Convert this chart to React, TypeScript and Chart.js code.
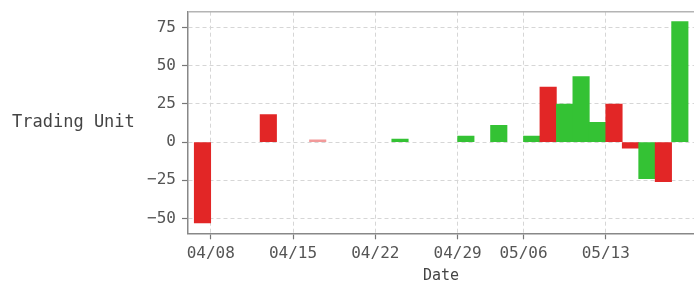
import React, { useEffect, useRef } from 'react';
import { Chart, registerables } from 'chart.js';

Chart.register(...registerables);

// Trading-day index of each labelled date tick
const tickDays = [0, 5, 10, 15, 19, 24];
const tickLabels = ['04/08', '04/15', '04/22', '04/29', '05/06', '05/13'];

// Each bar: trading-day slot (bar spans slot..slot+1), value, side
const barDays = [-1, 3, 6, 11, 15, 17, 19, 20, 21, 22, 23, 24, 25, 26, 27, 28];
const barValues = [-53, 18, 1.5, 2, 4, 11, 4, 36, 25, 43, 13, 25, -4, -24, -26, 79];
const barSides = ['sell', 'sell', 'sellLight', 'buy', 'buy', 'buy', 'buy', 'sell', 'buy', 'buy', 'buy', 'sell', 'sell', 'buy', 'sell', 'buy'];

const yTicks = [-50, -25, 0, 25, 50, 75];

const yTitle = 'Trading Unit';
const xTitle = 'Date';

const FONT = "'DejaVu Sans Mono', monospace";
const sideColors: Record<string, string> = {
  sell: '#e22626',
  sellLight: '#f29a9a',
  buy: '#34c234',
};

export default function App() {
  const ref = useRef<HTMLCanvasElement | null>(null);

  useEffect(() => {
    document.body.style.margin = '0';
    document.body.style.overflow = 'hidden';
    if (!ref.current) return;
    const frame = {
      id: 'frame',
      afterDraw(chart: any) {
        const { ctx, chartArea } = chart;
        ctx.save();
        ctx.strokeStyle = '#b4b4b4';
        ctx.lineWidth = 1.5;
        ctx.beginPath();
        ctx.moveTo(chartArea.left, chartArea.top);
        ctx.lineTo(chartArea.right + 2, chartArea.top);
        ctx.stroke();
        ctx.font = `17px ${FONT}`;
        ctx.fillStyle = '#444';
        ctx.textAlign = 'left';
        ctx.textBaseline = 'middle';
        ctx.fillText(yTitle, 12, (chartArea.top + chartArea.bottom) / 2);
        ctx.restore();
      },
    };

    const chart = new Chart(ref.current, {
      type: 'bar',
      data: {
        datasets: [
          {
            data: barDays.map((d, i) => ({ x: d + 0.5, y: barValues[i] })),
            backgroundColor: barSides.map((s) => sideColors[s]),
            borderWidth: 0,
            barPercentage: 1,
            categoryPercentage: 1,
          },
        ],
      },
      options: {
        animation: false,
        responsive: false,
        maintainAspectRatio: false,
        layout: { padding: { top: 11.7, left: 0, right: 0, bottom: 0 } },
        plugins: { legend: { display: false }, tooltip: { enabled: false } },
        scales: {
          x: {
            type: 'linear',
            offset: false,
            min: -1.38,
            max: 29.36,
            afterBuildTicks: (s: any) => {
              s.ticks = tickDays.map((v) => ({ value: v }));
            },
            afterFit: (s: any) => {
              s.height = 51.7;
              s.paddingLeft = 0;
              s.paddingRight = 0;
            },
            ticks: {
              callback: (_v: any, i: number) => tickLabels[i],
              font: { family: FONT, size: 16 },
              color: '#555',
              padding: 5,
              maxRotation: 0,
              autoSkip: false,
            },
            grid: {
              offset: false,
              color: '#d6d6d6',
              lineWidth: 1,
              tickLength: 6,
              tickColor: '#777',
              tickWidth: 1.2,
              tickBorderDash: [],
            },
            border: { display: true, color: '#888', width: 1.5, dash: [4, 3] },
            title: {
              display: true,
              text: xTitle,
              font: { family: FONT, size: 15 },
              color: '#444',
              padding: { top: 2, bottom: 0 },
            },
          },
          y: {
            type: 'linear',
            min: -59.8,
            max: 85.5,
            afterBuildTicks: (s: any) => {
              s.ticks = yTicks.map((v) => ({ value: v }));
            },
            afterFit: (s: any) => {
              s.width = 188;
              s.paddingTop = 0;
              s.paddingBottom = 0;
            },
            ticks: {
              callback: (v: any) => String(v).replace('-', '\u2212'),
              font: { family: FONT, size: 16 },
              color: '#555',
              padding: 6,
            },
            grid: {
              color: '#d6d6d6',
              lineWidth: 1,
              tickLength: 6,
              tickColor: '#777',
              tickWidth: 1.2,
              tickBorderDash: [],
            },
            border: { display: true, color: '#888', width: 1.5, dash: [4, 3] },
          },
        },
      },
      plugins: [frame],
    } as any);

    return () => chart.destroy();
  }, []);

  return (
    <div style={{ width: 694, height: 285 }}>
      <canvas ref={ref} width={694} height={285} style={{ display: 'block' }} />
    </div>
  );
}
